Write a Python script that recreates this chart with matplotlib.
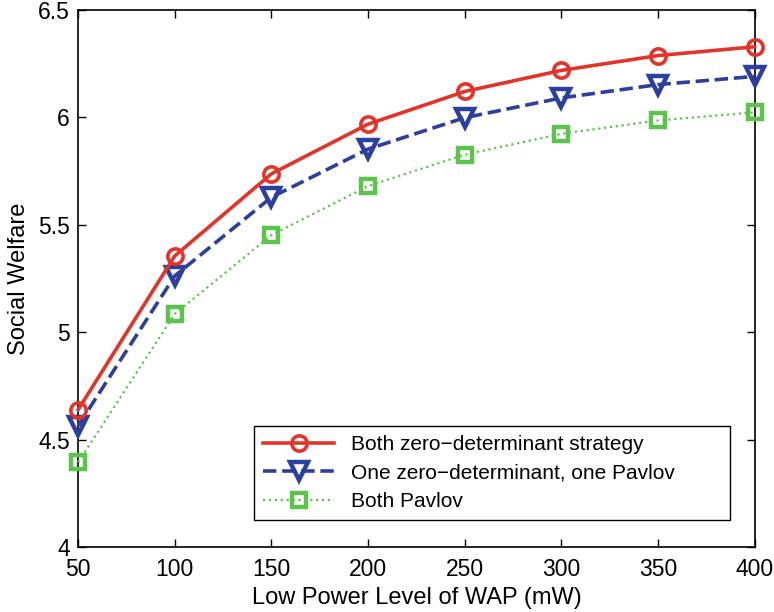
import matplotlib
matplotlib.use("Agg")
import matplotlib.pyplot as plt

power = [50, 100, 150, 200, 250, 300, 350, 400]
both_zd = [4.64, 5.355, 5.737, 5.968, 6.12, 6.218, 6.287, 6.328]
zd_pavlov = [4.565, 5.262, 5.628, 5.852, 5.998, 6.09, 6.152, 6.19]
both_pavlov = [4.395, 5.085, 5.452, 5.68, 5.826, 5.923, 5.985, 6.023]

plt.rcParams["font.family"] = ["Liberation Sans", "DejaVu Sans"]

fig = plt.figure(figsize=(7.74, 6.12), dpi=100)
ax = fig.add_axes([0.101, 0.106, 0.874, 0.878])

ax.plot(power, both_zd, "-", color="#e4342a", lw=2.6, marker="o", ms=11,
        mfc="none", mew=2.6, label="Both zero\u2212determinant strategy", clip_on=False, zorder=5)
ax.plot(power, zd_pavlov, "--", color="#2a3f9e", lw=2.6, marker="v", ms=13,
        mfc="none", mew=3.2, label="One zero\u2212determinant, one Pavlov", clip_on=False, zorder=4)
ax.plot(power, both_pavlov, ":", color="#5cc44c", lw=1.6, marker="s", ms=10,
        mfc="none", mew=3.2, label="Both Pavlov", clip_on=False, zorder=3)

ax.set_xlim(50, 400)
ax.set_ylim(4, 6.5)
ax.set_xticks(power)
ax.set_yticks([4, 4.5, 5, 5.5, 6, 6.5])
ax.set_yticklabels(["4", "4.5", "5", "5.5", "6", "6.5"])
ax.tick_params(direction="in", top=True, right=True, labelsize=16.5, length=6, width=1)
ax.tick_params(axis="x", pad=8)
ax.tick_params(axis="y", pad=6)
for s in ax.spines.values():
    s.set_linewidth(1.2)

ax.set_xlabel("Low Power Level of WAP (mW)", fontsize=17, labelpad=4)
ax.set_ylabel("Social Welfare", fontsize=17, labelpad=6)

leg = ax.legend(loc="lower left", bbox_to_anchor=(0.26, 0.05, 0.703, 0.2),
                mode="expand", borderaxespad=0,
                fontsize=15, fancybox=False, edgecolor="black", framealpha=1,
                handlelength=3.4, handletextpad=0.8, labelspacing=0.45, borderpad=0.45)
leg.get_frame().set_linewidth(1.0)

fig.savefig("out.png", dpi=100)
